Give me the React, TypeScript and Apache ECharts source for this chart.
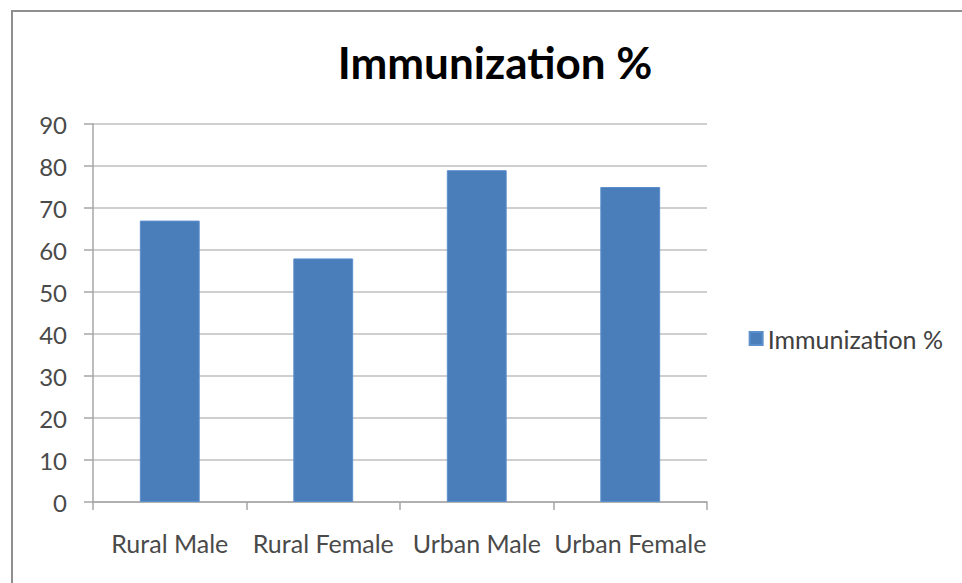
import React, { useEffect, useRef } from "react";
import * as echarts from "echarts";

const categories = ["Rural Male", "Rural Female", "Urban Male", "Urban Female"];
const immunization = [67, 58, 79, 75];
const seriesName = "Immunization %";
const titleText = "Immunization %";

export default function App() {
  const ref = useRef<HTMLDivElement>(null);
  useEffect(() => {
    if (!ref.current) return;
    const chart = echarts.init(ref.current, undefined, { renderer: "svg" });
    const font = "Lato, 'Open Sans', sans-serif";
    chart.setOption({
      animation: false,
      backgroundColor: "#ffffff",
      title: {
        text: titleText,
        left: 490,
        top: 35,
        textAlign: "center",
        textStyle: { fontFamily: font, fontWeight: "bold", fontSize: 44, color: "#000" },
      },
      legend: {
        data: [seriesName],
        right: 14,
        top: 321,
        icon: "rect",
        itemWidth: 13,
        itemHeight: 13,
        itemGap: 7,
        textStyle: { fontFamily: font, fontSize: 25, color: "#404040" },
      },
      graphic: [
        {
          type: "rect",
          shape: { x: 12, y: 11, width: 1000, height: 1000 },
          style: { fill: "none", stroke: "#8f8f8f", lineWidth: 2 },
          silent: true,
        },
      ],
      grid: { left: 93, right: 255, top: 124, bottom: 81 },
      xAxis: {
        type: "category",
        data: categories,
        axisLine: { lineStyle: { color: "#a6a6a6", width: 1.5 } },
        axisTick: { show: true, interval: 0, alignWithLabel: false, length: 8, lineStyle: { color: "#a6a6a6", width: 1.5 } },
        axisLabel: { interval: 0, fontFamily: font, fontSize: 25, color: "#4a4a4a", margin: 28 },
      },
      yAxis: {
        type: "value",
        min: 0,
        max: 90,
        interval: 10,
        axisLine: { show: true, lineStyle: { color: "#a6a6a6", width: 1.5 } },
        axisTick: { show: true, length: 9, lineStyle: { color: "#a6a6a6", width: 1.5 } },
        splitLine: { show: true, lineStyle: { color: "#bfbfbf", width: 1.5 } },
        axisLabel: { fontFamily: font, fontSize: 24, color: "#4a4a4a", margin: 26 },
      },
      series: [
        {
          name: seriesName,
          type: "bar",
          data: immunization,
          barWidth: "39%",
          itemStyle: { color: "#4a7ebb", borderColor: "#5b8fcc", borderWidth: 1 },
        },
      ],
    });
    return () => chart.dispose();
  }, []);
  return (
    <div
      ref={ref}
      style={{ position: "fixed", left: 0, top: 0, width: 962, height: 583 }}
    />
  );
}
